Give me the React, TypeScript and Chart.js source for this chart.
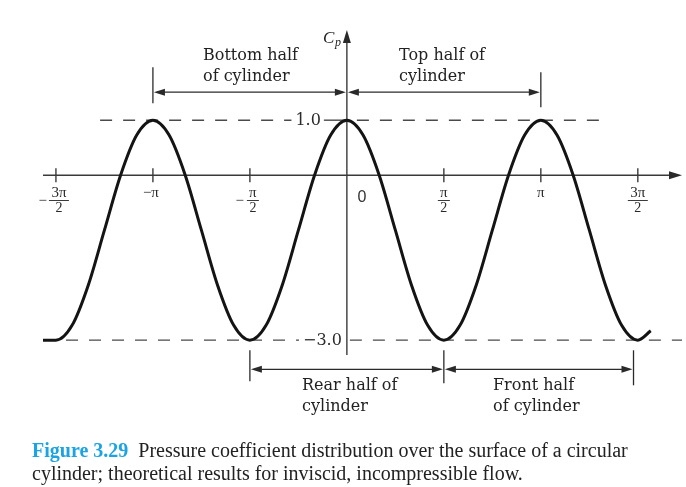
import React, { useEffect, useRef } from "react";
import Chart from "chart.js/auto";

// θ in degrees and the read pressure coefficient
const thetaDeg = [
  -282, -270, -255, -240, -225, -210, -195, -180, -165, -150, -135, -120, -105,
  -90, -75, -60, -45, -30, -15, 0, 15, 30, 45, 60, 75, 90, 105, 120, 135, 150,
  165, 180, 195, 210, 225, 240, 255, 270, 282,
];
const cpValues = [
  -3.0, -3.0, -2.73, -2.0, -1.0, 0.0, 0.73, 1.0, 0.73, 0.0, -1.0, -2.0, -2.73,
  -3.0, -2.73, -2.0, -1.0, 0.0, 0.73, 1.0, 0.73, 0.0, -1.0, -2.0, -2.73, -3.0,
  -2.73, -2.0, -1.0, 0.0, 0.73, 1.0, 0.73, 0.0, -1.0, -2.0, -2.73, -3.0, -2.83,
];

// x ticks (degrees) and their labels
const xTickDeg = [-270, -180, -90, 90, 180, 270];
const xTickSign = ["−", "−", "−", "", "", ""];
const xTickNum = ["3π", "π", "π", "π", "π", "3π"];
const xTickDen = ["2", "", "2", "2", "", "2"];

// reference levels
const refLevels = [1.0, -3.0];
const refLabels = ["1.0", "−3.0"];

const SERIF = '"Liberation Serif", "Times New Roman", serif';
const WSERIF = '"DejaVu Serif", serif';
const SANS = '"Liberation Sans", Arial, sans-serif';

function arrowHead(ctx: CanvasRenderingContext2D, x: number, y: number, dir: number, len = 10, hw = 3.5) {
  ctx.beginPath();
  ctx.moveTo(x, y);
  ctx.lineTo(x - dir * len, y - hw);
  ctx.lineTo(x - dir * len, y + hw);
  ctx.closePath();
  ctx.fill();
}

const overlayPlugin = {
  id: "cpOverlay",
  beforeDatasetsDraw(chart: any) {
    const ctx: CanvasRenderingContext2D = chart.ctx;
    const xs = chart.scales.x;
    const ys = chart.scales.y;
    const area = chart.chartArea;
    const x0 = xs.getPixelForValue(0);
    const y0 = ys.getPixelForValue(0);
    ctx.save();
    ctx.strokeStyle = "#3a3a3a";
    ctx.fillStyle = "#2a2a2a";
    ctx.lineWidth = 1.4;

    // x axis
    ctx.beginPath();
    ctx.moveTo(area.left, y0);
    ctx.lineTo(area.right - 4, y0);
    ctx.stroke();
    arrowHead(ctx, area.right, y0, 1, 13, 4);

    // y axis
    ctx.beginPath();
    ctx.moveTo(x0, area.bottom);
    ctx.lineTo(x0, area.top + 4);
    ctx.stroke();
    ctx.beginPath();
    ctx.moveTo(x0, area.top);
    ctx.lineTo(x0 - 4, area.top + 13);
    ctx.lineTo(x0 + 4, area.top + 13);
    ctx.closePath();
    ctx.fill();

    // ticks and labels
    ctx.fillStyle = "#2a2a2a";
    xTickDeg.forEach((d, i) => {
      const px = xs.getPixelForValue(d);
      ctx.beginPath();
      ctx.moveTo(px, y0 - 7);
      ctx.lineTo(px, y0 + 7);
      ctx.stroke();
      ctx.textBaseline = "alphabetic";
      if (xTickDen[i]) {
        const cx = px + (xTickSign[i] ? 3 : 0);
        ctx.font = `15px ${SERIF}`;
        ctx.textAlign = "center";
        ctx.fillText(xTickNum[i], cx, 197);
        ctx.font = `14px ${SERIF}`;
        ctx.fillText(xTickDen[i], cx, 212);
        ctx.lineWidth = 1;
        ctx.beginPath();
        const w = xTickNum[i].length > 1 ? 10 : 6;
        ctx.moveTo(cx - w, 200.5);
        ctx.lineTo(cx + w, 200.5);
        ctx.stroke();
        ctx.lineWidth = 1.4;
        if (xTickSign[i]) {
          ctx.font = `15px ${SERIF}`;
          ctx.textAlign = "right";
          ctx.fillText(xTickSign[i], cx - (xTickNum[i].length > 1 ? 12 : 9), 205);
        }
      } else {
        ctx.font = `15px ${SERIF}`;
        ctx.textAlign = "center";
        ctx.fillText(xTickSign[i] + xTickNum[i], px - (xTickSign[i] ? 2 : 0), 197);
      }
    });
    // zero label
    ctx.font = `16px ${SANS}`;
    ctx.textAlign = "center";
    ctx.fillStyle = "#333";
    ctx.fillText("0", x0 + 15, 202);

    // reference dashed lines
    ctx.strokeStyle = "#4a4a4a";
    ctx.lineWidth = 1.4;
    ctx.font = `16px ${WSERIF}`;
    ctx.fillStyle = "#2a2a2a";
    ctx.textBaseline = "middle";
    refLevels.forEach((lv, i) => {
      const py = ys.getPixelForValue(lv);
      const label = refLabels[i];
      const labelRight = i === 0 ? x0 - 26 : x0 - 5;
      const tw = ctx.measureText(label).width;
      const startX = i === 0 ? xs.getPixelForValue(-229) : area.left;
      const endX = i === 0 ? xs.getPixelForValue(238) : area.right;
      ctx.setLineDash([12, 11]);
      ctx.beginPath();
      ctx.moveTo(startX, py);
      ctx.lineTo(labelRight - tw - 4, py);
      ctx.stroke();
      ctx.beginPath();
      if (i === 0) {
        ctx.setLineDash([]);
        ctx.moveTo(labelRight + 3, py);
        ctx.lineTo(x0 + 2, py);
        ctx.stroke();
        ctx.setLineDash([12, 11]);
        ctx.beginPath();
        ctx.moveTo(x0 + 10, py);
      } else {
        ctx.moveTo(x0 + 3, py);
      }
      ctx.lineTo(endX, py);
      ctx.stroke();
      ctx.setLineDash([]);
      ctx.textAlign = "right";
      ctx.fillText(label, labelRight, py + 1);
    });
    ctx.restore();
  },
  afterDatasetsDraw(chart: any) {
    const ctx: CanvasRenderingContext2D = chart.ctx;
    const xs = chart.scales.x;
    const ys = chart.scales.y;
    const X = (d: number) => xs.getPixelForValue(d);
    ctx.save();
    ctx.strokeStyle = "#2a2a2a";
    ctx.fillStyle = "#2a2a2a";
    ctx.lineWidth = 1.3;

    const hArrow = (a: number, b: number, y: number) => {
      ctx.beginPath();
      ctx.moveTo(a + 4, y);
      ctx.lineTo(b - 4, y);
      ctx.stroke();
      arrowHead(ctx, a + 1, y, -1, 11, 3.5);
      arrowHead(ctx, b - 1, y, 1, 11, 3.5);
    };
    const vBar = (x: number, y1: number, y2: number) => {
      ctx.beginPath();
      ctx.moveTo(x, y1);
      ctx.lineTo(x, y2);
      ctx.stroke();
    };

    // top annotations
    const topY = ys.getPixelForValue(1.51);
    vBar(X(-180), topY - 25, topY + 11);
    vBar(X(180), topY - 20, topY + 15);
    hArrow(X(-180), X(0), topY);
    hArrow(X(0), X(180), topY);

    // bottom annotations
    const botY = ys.getPixelForValue(-3.53);
    vBar(X(-90), botY - 19, botY + 12);
    vBar(X(90), botY - 19, botY + 14);
    vBar(X(266), botY - 19, botY + 16);
    hArrow(X(-90), X(90), botY);
    hArrow(X(90), X(266), botY);

    ctx.font = `16px ${WSERIF}`;
    ctx.textAlign = "left";
    ctx.textBaseline = "alphabetic";
    ctx.fillStyle = "#222";
    ctx.fillText("Bottom half", X(-133.5), topY - 32);
    ctx.fillText("of cylinder", X(-133.5), topY - 11);
    ctx.fillText("Top half of", X(48.4), topY - 32);
    ctx.fillText("cylinder", X(48.4), topY - 11);
    ctx.fillText("Rear half of", X(-41.6), botY + 21);
    ctx.fillText("cylinder", X(-41.6), botY + 42);
    ctx.fillText("Front half", X(135.6), botY + 21);
    ctx.fillText("of cylinder", X(135.6), botY + 42);

    // Cp label
    const x0 = X(0);
    ctx.font = `italic 17px ${SERIF}`;
    ctx.fillText("C", x0 - 24, 43);
    ctx.font = `italic 12px ${SERIF}`;
    ctx.fillText("p", x0 - 12, 46);
    ctx.restore();
  },
};

export default function App() {
  const canvasRef = useRef<HTMLCanvasElement | null>(null);
  useEffect(() => {
    if (!canvasRef.current) return;
    const chart = new Chart(canvasRef.current, {
      type: "line",
      data: {
        datasets: [
          {
            data: thetaDeg.map((t, i) => ({ x: t, y: cpValues[i] })),
            borderColor: "#141414",
            borderWidth: 3,
            pointRadius: 0,
            fill: false,
            cubicInterpolationMode: "monotone",
          },
        ],
      },
      options: {
        animation: false,
        responsive: false,
        maintainAspectRatio: false,
        layout: { padding: { left: 43, right: 4, top: 30, bottom: 132 } },
        scales: {
          x: { type: "linear", min: -282, max: 311, display: false },
          y: { type: "linear", min: -3.27, max: 2.64, display: false },
        },
        plugins: { legend: { display: false }, tooltip: { enabled: false } },
      },
      plugins: [overlayPlugin],
    });
    return () => chart.destroy();
  }, []);

  return (
    <div style={{ position: "fixed", left: 0, top: 0, width: 686, height: 487, background: "#fff" }}>
      <canvas ref={canvasRef} width={686} height={487} style={{ position: "absolute", left: 0, top: 0 }} />
      <div
        style={{
          position: "absolute",
          left: 32,
          top: 439,
          fontFamily: SERIF,
          fontSize: 20,
          lineHeight: "23px",
          color: "#222",
          whiteSpace: "nowrap",
        }}
      >
        <span style={{ color: "#1ba3e3", fontWeight: "bold" }}>Figure 3.29</span>
        {"\u2002"}Pressure coefficient distribution over the surface of a circular
        <br />
        cylinder; theoretical results for inviscid, incompressible flow.
      </div>
    </div>
  );
}
